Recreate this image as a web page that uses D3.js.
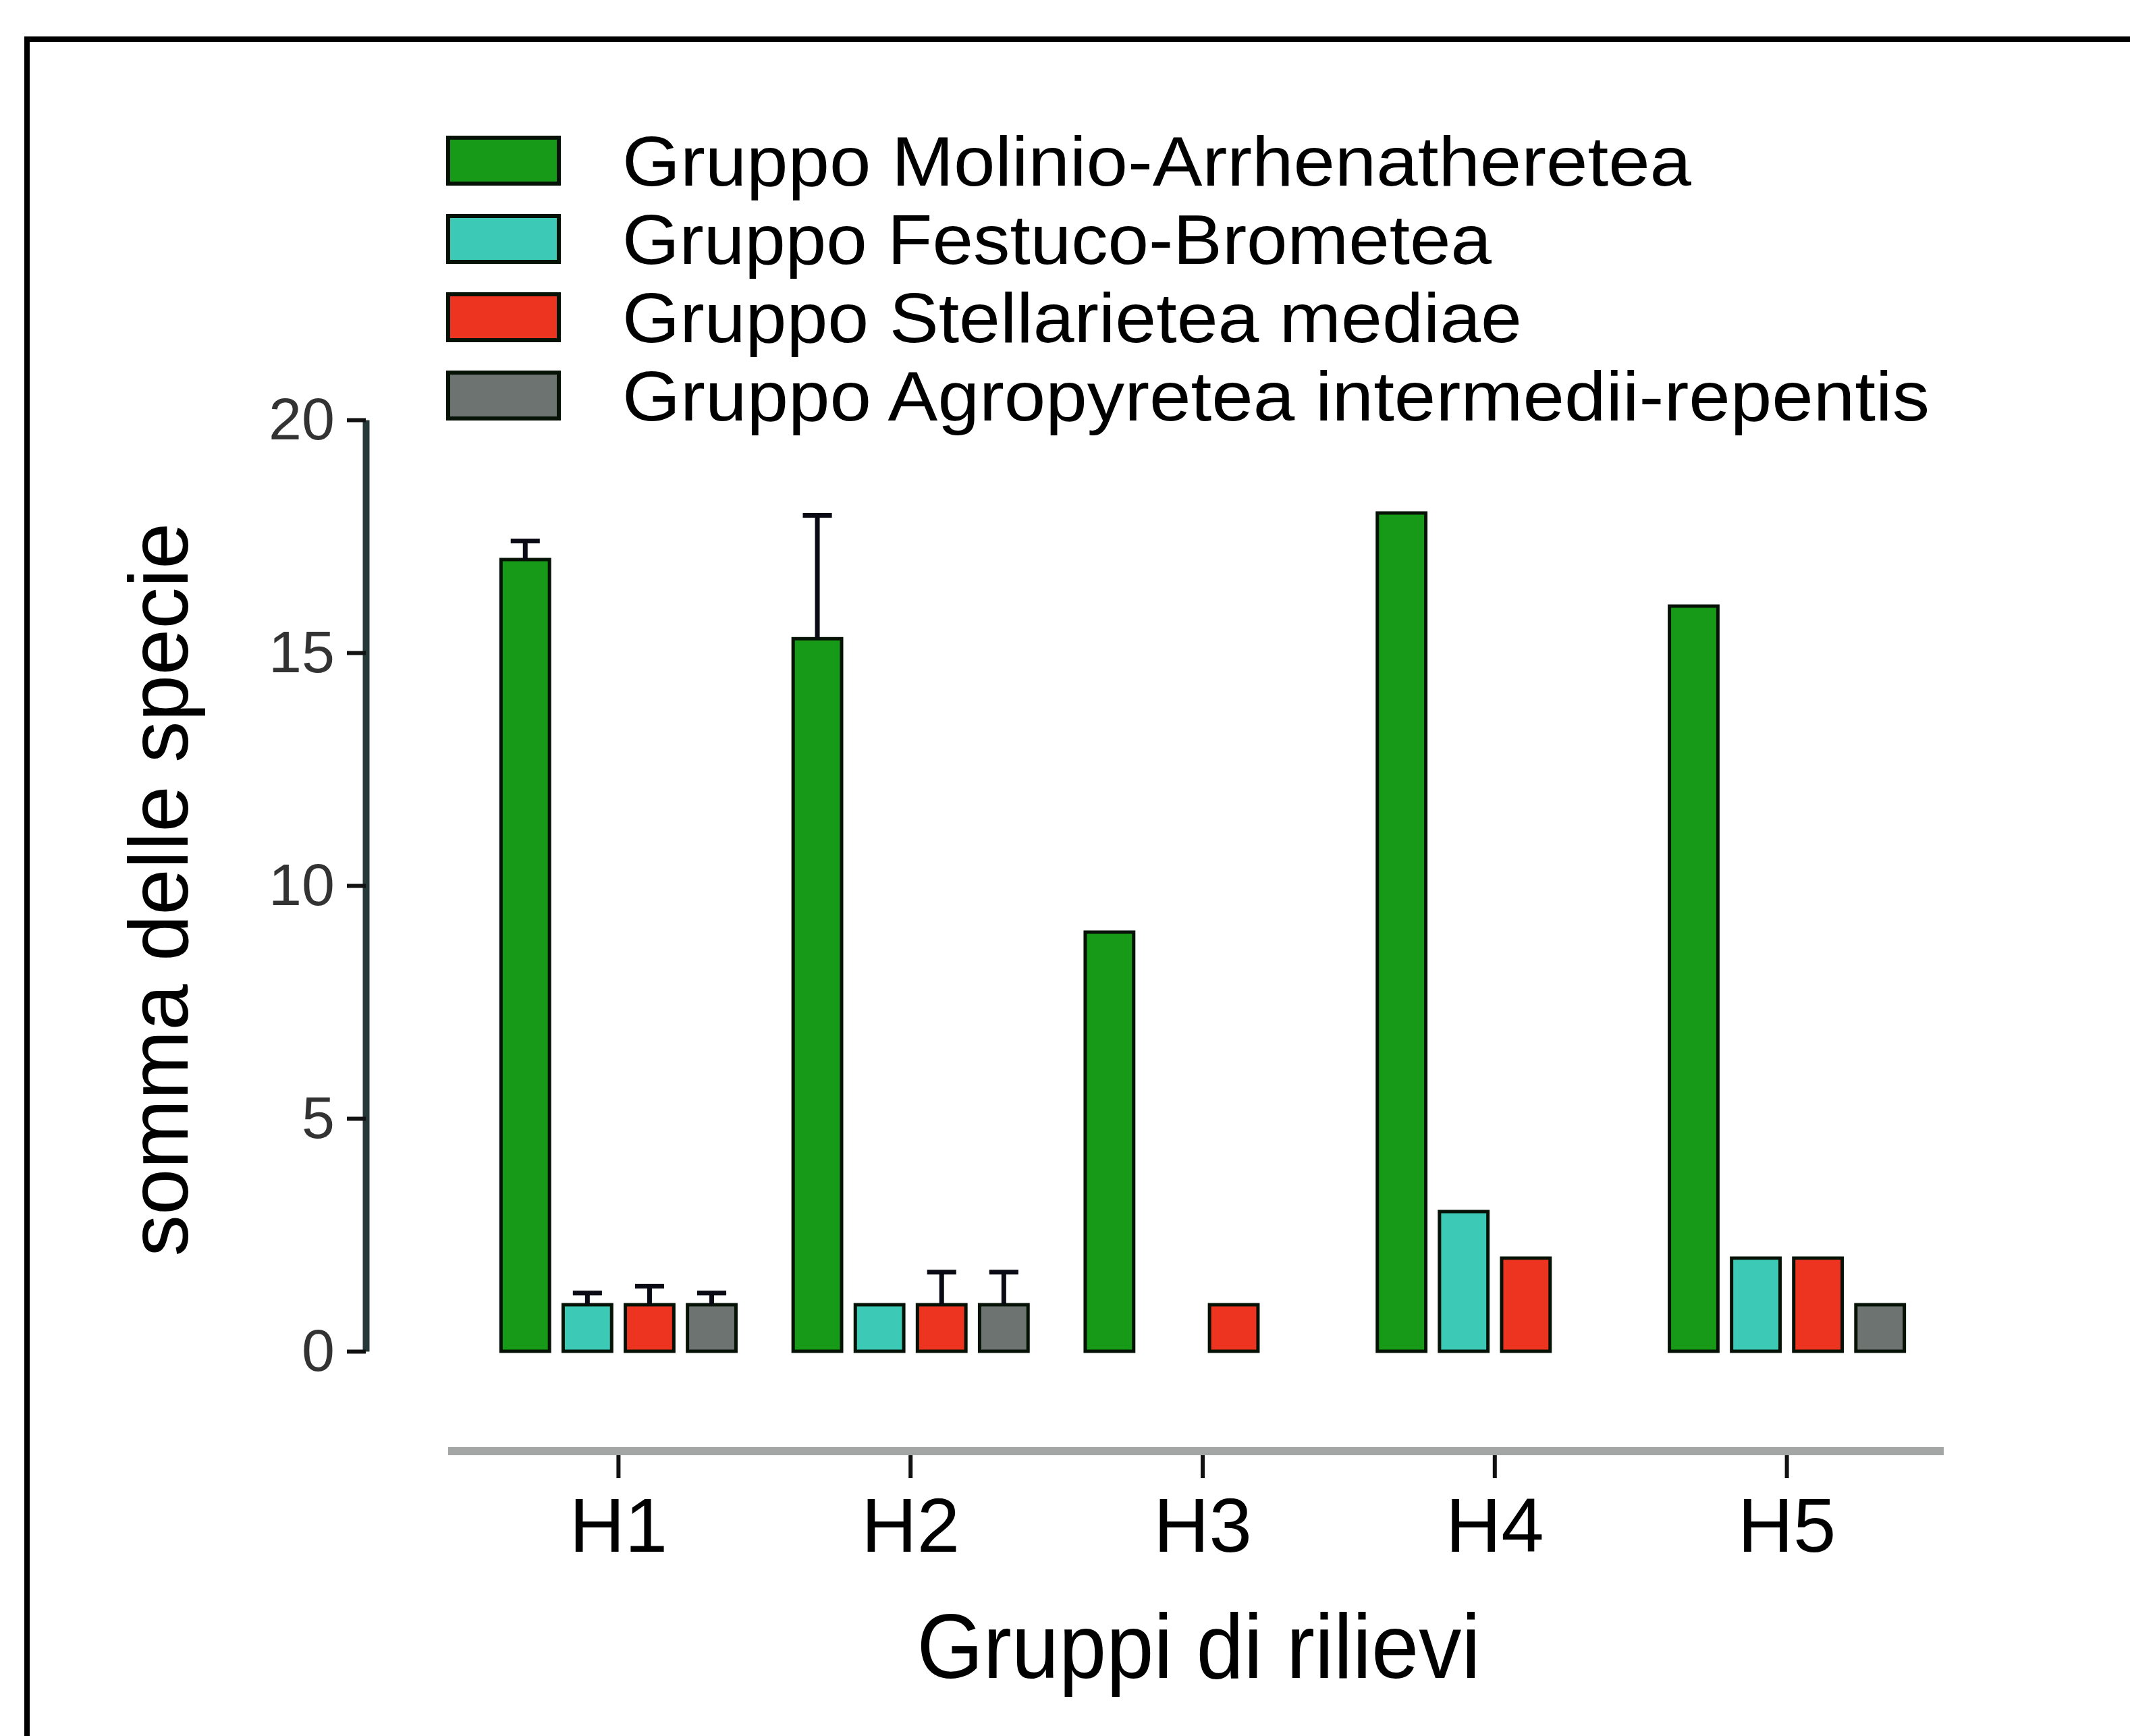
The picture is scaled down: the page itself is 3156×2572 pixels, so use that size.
<!DOCTYPE html>
<html>
<head>
<meta charset="utf-8">
<script src="https://cdn.jsdelivr.net/npm/d3@7"></script>
<style>
  body { margin: 0; background: #fff; }
  svg { display: block; font-family: 'Liberation Sans', Arial, sans-serif; }
</style>
</head>
<body>
<div id="chart-area"></div>
<script>
const groups = ['H1', 'H2', 'H3', 'H4', 'H5']
const seriesNames = [
    'Gruppo Molinio-Arrhenatheretea',
    'Gruppo Festuco-Brometea',
    'Gruppo Stellarietea mediae',
    'Gruppo Agropyretea intermedii-repentis'
]
const seriesColors = ['#179a17', '#3cc9b6', '#ec3420', '#6d7370']

// mean values per group
const molinio = [17, 15.3, 9, 18, 16]
const festuco = [1, 1, 0, 3, 2]
const stellarietea = [1, 1, 1, 2, 2]
const agropyretea = [1, 1, 0, 0, 1]

// upper error
const molinioErr = [0.4, 2.65, 0, 0, 0]
const festucoErr = [0.25, 0, 0, 0, 0]
const stellarieteaErr = [0.4, 0.7, 0, 0, 0]
const agropyreteaErr = [0.25, 0.7, 0, 0, 0]

const yTicks = [0, 5, 10, 15, 20]

const values = [molinio, festuco, stellarietea, agropyretea]
const errors = [molinioErr, festucoErr, stellarieteaErr, agropyreteaErr]

const data = []
groups.forEach((g, i) => {
    seriesNames.forEach((s, j) => {
        data.push({ group: g, series: s, value: values[j][i], err: errors[j][i], color: seriesColors[j] })
    })
})

const W = 3156, H = 2572

const svg = d3.select('#chart-area').append('svg')
    .attr('width', W)
    .attr('height', H)

// outer frame
svg.append('rect')
    .attr('x', 40)
    .attr('y', 58)
    .attr('width', 3200)
    .attr('height', 2600)
    .attr('fill', 'none')
    .attr('stroke', '#000')
    .attr('stroke-width', 8)

const x0 = d3.scaleBand()
    .domain(groups)
    .range([700, 2864])
    .paddingInner(0)
    .paddingOuter(0)

const x1 = d3.scaleBand()
    .domain(seriesNames)
    .range([0, x0.bandwidth()])
    .paddingInner(0.22)
    .paddingOuter(0.46)

const y = d3.scaleLinear()
    .domain([0, 20])
    .range([2002, 622])

// bars
const g = svg.append('g')

g.selectAll('rect.bar')
    .data(data.filter(d => d.value > 0))
    .enter().append('rect')
    .attr('class', 'bar')
    .attr('x', d => x0(d.group) + x1(d.series))
    .attr('y', d => y(d.value))
    .attr('width', x1.bandwidth())
    .attr('height', d => y(0) - y(d.value))
    .attr('fill', d => d.color)
    .attr('stroke', '#061206')
    .attr('stroke-width', 5)

// error bars (upper only)
const errData = data.filter(d => d.err > 0)
const capW = x1.bandwidth() * 0.6

g.selectAll('line.err')
    .data(errData)
    .enter().append('line')
    .attr('class', 'err')
    .attr('x1', d => x0(d.group) + x1(d.series) + x1.bandwidth() / 2)
    .attr('x2', d => x0(d.group) + x1(d.series) + x1.bandwidth() / 2)
    .attr('y1', d => y(d.value))
    .attr('y2', d => y(d.value + d.err))
    .attr('stroke', '#0a0a14')
    .attr('stroke-width', 7)

g.selectAll('line.cap')
    .data(errData)
    .enter().append('line')
    .attr('class', 'cap')
    .attr('x1', d => x0(d.group) + x1(d.series) + x1.bandwidth() / 2 - capW / 2)
    .attr('x2', d => x0(d.group) + x1(d.series) + x1.bandwidth() / 2 + capW / 2)
    .attr('y1', d => y(d.value + d.err))
    .attr('y2', d => y(d.value + d.err))
    .attr('stroke', '#0a0a14')
    .attr('stroke-width', 7)

// y axis
const yAxisCall = d3.axisLeft(y)
    .tickValues(yTicks)
    .tickSize(28)
    .tickSizeOuter(0)
    .tickPadding(18)
const yAxis = svg.append('g')
    .attr('class', 'y axis')
    .attr('transform', 'translate(542, 0)')
    .call(yAxisCall)
yAxis.select('.domain')
    .attr('stroke', '#263838')
    .attr('stroke-width', 10)
yAxis.selectAll('.tick line')
    .attr('stroke', '#111')
    .attr('stroke-width', 6)
yAxis.selectAll('.tick text')
    .attr('font-size', 88)
    .attr('fill', '#333')
    .attr('font-family', "'Liberation Sans', Arial, sans-serif")

// x axis
const xAxisCall = d3.axisBottom(x0)
    .tickSize(40)
    .tickSizeOuter(0)
    .tickPadding(28)
const xAxis = svg.append('g')
    .attr('class', 'x axis')
    .attr('transform', 'translate(0, 2150)')
    .call(xAxisCall)
xAxis.select('.domain').remove()
xAxis.append('line')
    .attr('x1', x0.range()[0] - 36)
    .attr('x2', x0.range()[1] + 16)
    .attr('y1', 0)
    .attr('y2', 0)
    .attr('stroke', '#a4a6a6')
    .attr('stroke-width', 12)
xAxis.selectAll('.tick line')
    .attr('stroke', '#111')
    .attr('stroke-width', 6)
xAxis.selectAll('.tick text')
    .attr('font-size', 114)
    .attr('fill', '#000')
    .attr('font-family', "'Liberation Sans', Arial, sans-serif")

// axis titles
svg.append('text')
    .attr('x', 1776)
    .attr('y', 2486)
    .attr('font-size', 136)
    .attr('text-anchor', 'middle')
    .attr('textLength', 835)
    .attr('lengthAdjust', 'spacingAndGlyphs')
    .text('Gruppi di rilievi')

svg.append('text')
    .attr('x', -1318)
    .attr('y', 278)
    .attr('font-size', 124)
    .attr('text-anchor', 'middle')
    .attr('transform', 'rotate(-90)')
    .attr('textLength', 1087)
    .attr('lengthAdjust', 'spacingAndGlyphs')
    .text('somma delle specie')

// legend
const legendWidths = [1584, 1288, 1333, 1937]
const legend = svg.append('g')
    .attr('class', 'legend')

const rows = legend.selectAll('g')
    .data(seriesNames)
    .enter().append('g')
    .attr('transform', (d, i) => `translate(664, ${238 + i * 116})`)

rows.append('rect')
    .attr('x', 0)
    .attr('y', -34)
    .attr('width', 164)
    .attr('height', 68)
    .attr('fill', (d, i) => seriesColors[i])
    .attr('stroke', '#061206')
    .attr('stroke-width', 6)

rows.append('text')
    .attr('x', 258)
    .attr('y', 37)
    .attr('font-size', 104)
    .attr('textLength', (d, i) => legendWidths[i])
    .attr('lengthAdjust', 'spacingAndGlyphs')
    .text(d => d)
</script>
</body>
</html>
